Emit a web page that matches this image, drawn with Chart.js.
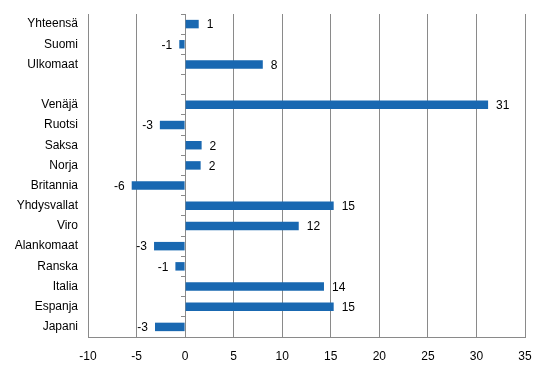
<!DOCTYPE html>
<html lang="fi">
<head>
  <meta charset="UTF-8">
  <title>Muutos %</title>
  <script src="https://cdn.jsdelivr.net/npm/chart.js"></script>
  <style>
   body { margin: 0; background: #fff; }
   #wrap { width: 546px; height: 376px; }
  </style>
</head>
<body>
  <div id="wrap"><canvas id="myChart" width="546" height="376"></canvas></div>
  <script>
    // categories (empty one is the gap between totals and countries)
    const categories = ['Yhteensä', 'Suomi', 'Ulkomaat', '', 'Venäjä', 'Ruotsi', 'Saksa', 'Norja', 'Britannia',
                        'Yhdysvallat', 'Viro', 'Alankomaat', 'Ranska', 'Italia', 'Espanja', 'Japani'];
    const values     = [1.4, -0.6, 8.0, null, 31.2, -2.6, 1.7, 1.6, -5.5, 15.3, 11.7, -3.2, -1.0, 14.3, 15.3, -3.1];
    const valueTexts = ['1', '-1', '8', '', '31', '-3', '2', '2', '-6', '15', '12', '-3', '-1', '14', '15', '-3'];
    const xTicks     = [-10, -5, 0, 5, 10, 15, 20, 25, 30, 35];

    const FONT = 'Liberation Sans, Arial, sans-serif';
    const GRID = '#8a8a8a';

    // value labels at bar ends
    const barLabels = {
      id: 'barLabels',
      afterDatasetsDraw(chart) {
        const ctx = chart.ctx;
        const meta = chart.getDatasetMeta(0);
        ctx.save();
        ctx.font = '12px ' + FONT;
        ctx.fillStyle = '#000';
        ctx.textBaseline = 'middle';
        meta.data.forEach((bar, i) => {
          if (values[i] === null) return;
          if (values[i] >= 0) { ctx.textAlign = 'left';  ctx.fillText(valueTexts[i], bar.x + 8, bar.y + 1); }
          else                { ctx.textAlign = 'right'; ctx.fillText(valueTexts[i], bar.x - 7, bar.y + 1); }
        });
        ctx.restore();
      }
    };

    new Chart(document.getElementById('myChart').getContext('2d'), {
      type: 'bar',
      data: {
        labels: categories,
        datasets: [{ data: values, backgroundColor: '#1968b1', barPercentage: 0.42, categoryPercentage: 1.0 }]
      },
      options: {
        indexAxis: 'y',
        responsive: false,
        animation: false,
        layout: { padding: { top: 14, right: 21, left: 0, bottom: 0 } },
        plugins: { legend: { display: false }, tooltip: { enabled: false } },
        scales: {
          x: {
            min: -10, max: 35,
            afterBuildTicks: s => { s.ticks = xTicks.map(v => ({ value: v })); },
            afterFit: s => { s.height = 39; s.paddingLeft = 0; s.paddingRight = 0; },
            grid: { color: GRID, drawTicks: false },
            border: { color: GRID },
            ticks: { padding: 12, color: '#000', font: { family: FONT, size: 12 } }
          },
          y: {
            afterFit: s => { s.width = 88; s.paddingTop = 0; s.paddingBottom = 0; },
            grid: { display: false, drawTicks: false },
            border: { display: false },
            ticks: { padding: 10, color: '#000', font: { family: FONT, size: 12 } }
          },
          // zero line with category tick marks
          y0: {
            type: 'category',
            position: { x: 0 },
            afterFit: s => { s.paddingTop = 0; s.paddingBottom = 0; },
            grid: { drawOnChartArea: false, color: GRID, tickLength: 4, offset: true },
            border: { color: GRID },
            ticks: { display: false }
          }
        }
      },
      plugins: [barLabels]
    });
  </script>
</body>
</html>
